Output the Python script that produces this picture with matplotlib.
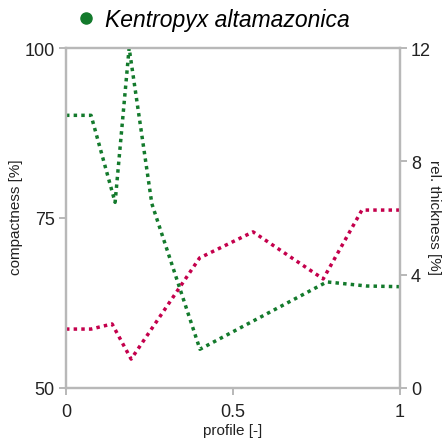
import matplotlib
matplotlib.use('Agg')
import matplotlib.pyplot as plt
from matplotlib.lines import Line2D

# compactness profile (left axis)
prof_c = [0.0, 0.075, 0.147, 0.189, 0.257, 0.401, 0.781, 0.90, 1.0]
compactness = [90.1, 90.1, 77.3, 100.0, 77.1, 55.7, 65.6, 65.0, 64.9]

# relative thickness profile (right axis)
prof_t = [0.0, 0.075, 0.138, 0.195, 0.40, 0.56, 0.77, 0.886, 1.0]
thickness = [2.08, 2.08, 2.26, 1.02, 4.59, 5.51, 3.85, 6.28, 6.28]

species = 'Kentropyx altamazonica'
green = '#137a2c'
red = '#c4004c'
grey = '#b8b8b8'
txt = '#222222'

plt.rcParams['font.family'] = ['Liberation Sans', 'DejaVu Sans']

fig = plt.figure(figsize=(4.46, 4.39), dpi=100)
ax = fig.add_axes([66/446, 50/439, 334/446, 340/439])
ax2 = ax.twinx()

ax.plot(prof_c, compactness, color=green, lw=2.5, dashes=(1, 1.2),
        dash_capstyle='butt')
ax2.plot(prof_t, thickness, color=red, lw=2.5, dashes=(1, 1.2),
         dash_capstyle='butt')

ax.set_xlim(0, 1)
ax.set_ylim(50, 100)
ax2.set_ylim(0, 12)
ax.set_xticks([0, 0.5, 1])
ax.set_xticklabels(['0', '0.5', '1'])
ax.set_yticks([50, 75, 100])
ax2.set_yticks([0, 4, 8, 12])

for a in (ax, ax2):
    for s in a.spines.values():
        s.set_color(grey)
        s.set_linewidth(1.6)
    a.tick_params(direction='out', length=5, width=1.4, color=grey,
                  labelsize=13, labelcolor=txt, pad=3)
ax.tick_params(axis='x', pad=6)

# axis titles placed by hand, as in the original
fig.text(233/446, 1 - 431/439, 'profile [-]', fontsize=11, color=txt,
         ha='center', va='center')
fig.text(16/446, 0.5 + 2/439, 'compactness [%]', fontsize=11, color=txt,
         ha='center', va='center', rotation=90)
fig.text(434/446, 0.5 + 2/439, 'rel. thickness [%]', fontsize=11, color=txt,
         ha='center', va='center', rotation=270)

handle = Line2D([], [], ls='none', marker='o', color=green, markersize=8)
fig.legend([handle], [species], loc='center',
           bbox_to_anchor=(211/446, 1 - 21/439), frameon=False,
           prop={'style': 'italic', 'size': 16.5}, handletextpad=0.2,
           handlelength=1.2)

fig.savefig('out.png', dpi=100)
